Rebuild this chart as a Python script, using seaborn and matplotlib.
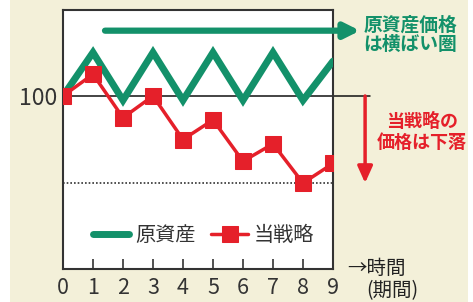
import matplotlib
matplotlib.use("Agg")
import matplotlib.pyplot as plt
import seaborn as sns
import pandas as pd

periods = [0, 1, 2, 3, 4, 5, 6, 7, 8, 9]
underlying = [100, 120, 98, 120, 98, 120, 98, 120, 98, 116]
strategy = [100, 110, 90, 100, 80, 89, 70, 78, 60, 69]
series_names = ["原資産", "当戦略"]
xtick_labels = ["0", "1", "2", "3", "4", "5", "6", "7", "8", "9"]

GREEN = "#13916a"
RED = "#e5202a"
BEIGE = "#f3f0d9"

sns.set_style("white")
plt.rcParams["font.family"] = ["Noto Sans CJK JP", "DejaVu Sans"]

df = pd.DataFrame({
    "period": periods * 2,
    "value": underlying + strategy,
    "series": [series_names[0]] * len(periods) + [series_names[1]] * len(periods),
})

fig = plt.figure(figsize=(4.73, 3.02), dpi=100)
fig.patch.set_facecolor("white")
bg = plt.Rectangle((10 / 473, 0), 458 / 473, 1, transform=fig.transFigure,
                   facecolor=BEIGE, edgecolor="none", zorder=-10)
fig.patches.append(bg)

ax = fig.add_axes([63 / 473, 1 - 269 / 302, 270 / 473, 259 / 302])
ax.set_facecolor("white")

sns.lineplot(data=df[df.series == series_names[0]], x="period", y="value",
             color=GREEN, linewidth=5, ax=ax, label=series_names[0],
             solid_joinstyle="miter", zorder=3)
sns.lineplot(data=df[df.series == series_names[1]], x="period", y="value",
             color=RED, linewidth=2.5, marker="s", markersize=11,
             markeredgecolor=RED, ax=ax, label=series_names[1], zorder=4)

ax.set_xlim(0, 9)
ax.set_ylim(20.5, 139.5)
ax.set_xlabel("")
ax.set_ylabel("")

ax.set_xticks(periods)
ax.set_xticklabels(xtick_labels, fontsize=15.5, color="#333333")
ax.tick_params(axis="x", direction="in", length=7, width=1.2, color="#333333",
               pad=6, bottom=True)
ax.set_yticks([100])
ax.set_yticklabels(["100"], fontsize=16.5, color="#333333")
ax.tick_params(axis="y", length=0, pad=4)

for s in ax.spines.values():
    s.set_visible(True)
    s.set_color("#333333")
    s.set_linewidth(1.5)

# reference lines
ax.axhline(100, xmin=0, xmax=(370 - 63) / 270, color="#111111", linewidth=1.1,
           clip_on=False, zorder=2)
ax.axhline(60, color="#333333", linewidth=1.2, linestyle=(0, (1, 1.2)), zorder=1)

# green arrow: underlying stays flat
ax.annotate("", xy=(9.9, 130), xytext=(1.4, 130), annotation_clip=False,
            arrowprops=dict(arrowstyle="-|>,head_length=0.9,head_width=0.45",
                            color=GREEN, linewidth=4.5, shrinkA=0, shrinkB=0))
fig.text(410 / 473, 1 - 35 / 302, "原資産価格\nは横ばい圏", color=GREEN,
         fontsize=13.5, fontweight="bold", ha="center", va="center",
         linespacing=1.05)

# red arrow: strategy falls
ax.annotate("", xy=(10.07, 60), xytext=(10.07, 100), annotation_clip=False,
            arrowprops=dict(arrowstyle="-|>,head_length=1.0,head_width=0.45",
                            color=RED, linewidth=2.5, shrinkA=0, shrinkB=0))
fig.text(422 / 473, 1 - 132 / 302, "当戦略の\n価格は下落", color=RED,
         fontsize=13, fontweight="bold", ha="center", va="center",
         linespacing=1.15)

# time axis label
fig.text(347 / 473, 1 - 268 / 302, "→時間", color="#222222", fontsize=14,
         ha="left", va="center")
fig.text(366 / 473, 1 - 291 / 302, "(期間)", color="#222222", fontsize=14,
         ha="left", va="center")

leg = ax.legend(loc="center", bbox_to_anchor=(0.52, 0.13), ncol=2,
                frameon=False, fontsize=14.5, handlelength=1.8,
                columnspacing=0.8, handletextpad=0.3)
for t in leg.get_texts():
    t.set_color("#333333")

fig.savefig("out.png", dpi=100, facecolor=fig.get_facecolor())
